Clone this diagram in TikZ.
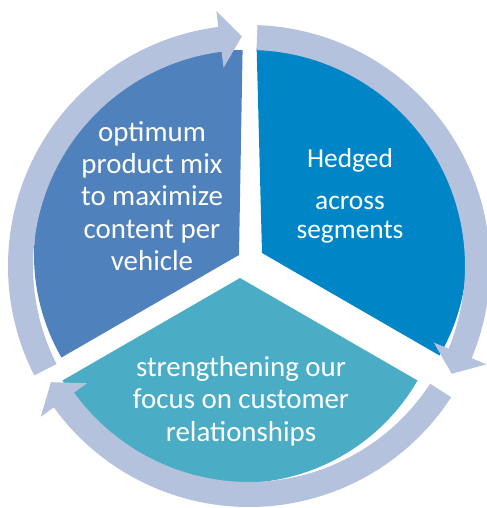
\documentclass[tikz,border=0pt]{standalone}
\usepackage{fontspec}
\setmainfont{Carlito}
\usetikzlibrary{calc}
\definecolor{ringc}{RGB}{180,194,222}
\definecolor{mixc}{RGB}{79,129,189}
\definecolor{hedgec}{RGB}{0,134,198}
\definecolor{custc}{RGB}{75,172,198}
\begin{document}
\begin{tikzpicture}[x=1bp,y=1bp,
  txt/.style={text=white,align=center,font=\fontsize{29}{32.5}\selectfont}]
\useasboundingbox(0,0)rectangle(487,508);

%扇形
\fill[mixc](239,253)--++(89:205)arc[start angle=89,end angle=210,radius=205]--cycle; %左
\fill[hedgec](262,255)--++(-30:205)arc[start angle=-30,end angle=91.5,radius=205]--cycle; %右
\fill[custc](240,230)--++(210:205)arc[start angle=210,end angle=330,radius=205]--cycle; %下

%矢印
\begin{scope}[shift={(249,242)}]
\fill[ringc](207:241)arc[start angle=207,end angle=97.3,radius=241]--(97.3:257)--(91.8:229.6)
  --(97.3:200)--(97.3:216)arc[start angle=97.3,end angle=207,radius=216]--cycle; %左上
\fill[ringc](88:241)arc[start angle=88,end angle=-22.5,radius=241]--(-22.5:257)--(-28:229.6)
  --(-22.5:200)--(-22.5:216)arc[start angle=-22.5,end angle=88,radius=216]--cycle; %右
\fill[ringc](327:241)arc[start angle=327,end angle=215.9,radius=241]--(215.9:257)--(210.4:229.6)
  --(215.9:200)--(215.9:216)arc[start angle=215.9,end angle=327,radius=216]--cycle; %下
\end{scope}

%文字
\node[txt](mix)at(152,312){optimum\\product mix\\to maximize\\content per\\vehicle};
\node[txt,font=\fontsize{27.5}{29.5}\selectfont](hedge)at(350,312){Hedged\\[12bp]across\\segments};
\node[txt](cust)at(241,107){strengthening our\\focus on customer\\relationships};
\end{tikzpicture}
\end{document}
